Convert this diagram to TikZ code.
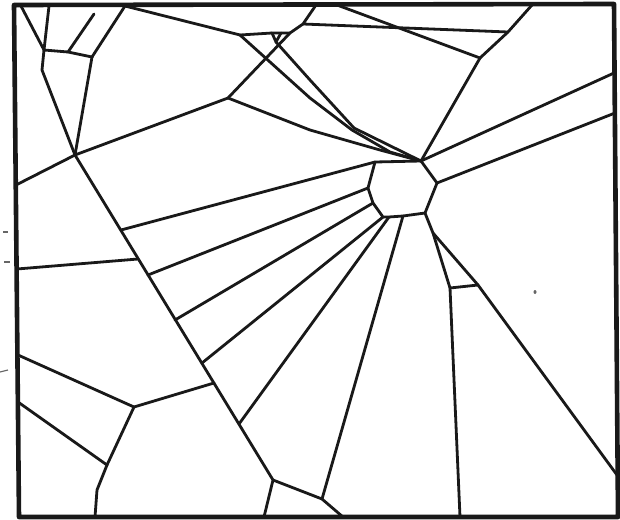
\documentclass[tikz,border=0pt]{standalone}
\usepackage{tikz}
\usetikzlibrary{calc}
\begin{document}
\begin{tikzpicture}[x=1pt, y=-1pt,
  cell/.style={draw=black!90, line width=2.8pt, line cap=round, line join=round},
  frame/.style={draw=black!90, line width=4.6pt, line join=round},
  tick/.style={draw=black!60, line width=1.2pt}
]
\useasboundingbox (0,0) rectangle (620,519);
\fill[white] (0,0) rectangle (620,519);

% Frame
\coordinate (tl) at (14,5);
\coordinate (tr) at (614,4);
\coordinate (br) at (618,517);
\coordinate (bl) at (19,517);

% Top left corner
\coordinate (a1) at (21,6);
\coordinate (a2) at (49,6);
\coordinate (A) at (44,50);
\coordinate (a3) at (42,70);
\coordinate (P) at (68,52);
\coordinate (p1) at (94,14);
\coordinate (Q) at (92,57);
\coordinate (q1) at (125,6);
\coordinate (B) at (75,155);
\coordinate (C) at (228,98);
\coordinate (I) at (240,35);

% Small triangle and cross line at the top
\coordinate (t1) at (272,33);
\coordinate (t2) at (281,33);
\coordinate (t3) at (276,42);
\coordinate (c1) at (290,33);
\coordinate (c2) at (303,24);
\coordinate (c3) at (316,5);

% Top right
\coordinate (R) at (337,5);
\coordinate (H) at (480,58);
\coordinate (S) at (508,32);
\coordinate (s1) at (532,5);

% Centre cell
\coordinate (h1) at (375,162);
\coordinate (h2) at (421,161);
\coordinate (h3) at (437,183);
\coordinate (h4) at (425,213);
\coordinate (h9) at (403,216);
\coordinate (h8) at (389,217);
\coordinate (h5) at (383,217);
\coordinate (h7) at (373,203);
\coordinate (h6) at (368,188);

% Below the centre cell
\coordinate (J) at (433,233);
\coordinate (F) at (450,288);
\coordinate (G) at (478,285);

% Long diagonal and its joints
\coordinate (D) at (273,480);
\coordinate (E) at (322,499);
\coordinate (d1) at (121,230);
\coordinate (d2) at (138,259);
\coordinate (d3) at (148,275);
\coordinate (d4) at (175,320);
\coordinate (d5) at (202,363);
\coordinate (d6) at (214,383);
\coordinate (d7) at (239,424);

% Bottom left
\coordinate (K) at (134,407);
\coordinate (L) at (107,465);

% Border ends
\coordinate (lb1) at (16,185);
\coordinate (lb2) at (17,269);
\coordinate (lb3) at (18,355);
\coordinate (lb4) at (18,402);
\coordinate (rb1) at (614,73);
\coordinate (rb2) at (615,113);
\coordinate (rb3) at (617,475);
\coordinate (bb1) at (95,517);
\coordinate (bb2) at (264,517);
\coordinate (bb3) at (343,517);
\coordinate (bb4) at (460,517);

\draw[frame] (tl) -- (tr) -- (br) -- (bl) -- cycle;

% cells of the top left
\draw[cell] (a1) -- (A) -- (a2);
\draw[cell] (A) -- (a3) -- (B);
\draw[cell] (A) -- (P) -- (Q);
\draw[cell] (P) -- (p1);
\draw[cell] (Q) -- (q1) -- (I);
\draw[cell] (Q) -- (B);
\draw[cell] (lb1) -- (B) -- (C);

% top strip
\draw[cell] (I) -- (t1) -- (t2) -- (c1);
\draw[cell] (t1) -- (t3) -- (t2);
\draw[cell] (C) -- (c1) -- (c2) -- (c3);
\draw[cell] (c2) -- (S) -- (s1);
\draw[cell] (R) -- (H) -- (S);
\draw[cell] (H) -- (h2);

% thin fan into the centre cell
\draw[cell] (C) -- (310,130) -- (380,150) -- (h2);
\draw[cell] (I) -- (310,98) -- (352,130) -- (390,152) -- (h2);
\draw[cell] (t3) -- (310,80) -- (354,128) -- (h2);

% centre cell
\draw[cell] (h1) -- (h2) -- (h3) -- (h4) -- (h9) -- (h8) -- (h5) -- (h7) -- (h6) -- cycle;
\draw[cell] (h2) -- (rb1);
\draw[cell] (h3) -- (rb2);

% long diagonal and the fan to its right
\draw[cell] (B) -- (D) -- (bb2);
\draw[cell] (D) -- (E) -- (bb3);
\draw[cell] (lb2) -- (d2);
\draw[cell] (d1) -- (h1);
\draw[cell] (d3) -- (h6);
\draw[cell] (d4) -- (h7);
\draw[cell] (d5) -- (h5);
\draw[cell] (d7) -- (h8);
\draw[cell] (E) -- (h9);

% below the centre cell
\draw[cell] (h4) -- (J) -- (F) -- (bb4);
\draw[cell] (J) -- (G) -- (rb3);
\draw[cell] (F) -- (G);

% bottom left
\draw[cell] (lb3) -- (K) -- (d6);
\draw[cell] (lb4) -- (L) -- (K);
\draw[cell] (L) -- (97,490) -- (bb1);

% marks outside the frame
\draw[tick] (3,232) -- (8,232);
\draw[tick] (4,262) -- (10,262);
\draw[tick] (0,372) -- (8,370);
\fill[black!60] (535,292) ellipse (1.5 and 2);
\end{tikzpicture}
\end{document}
